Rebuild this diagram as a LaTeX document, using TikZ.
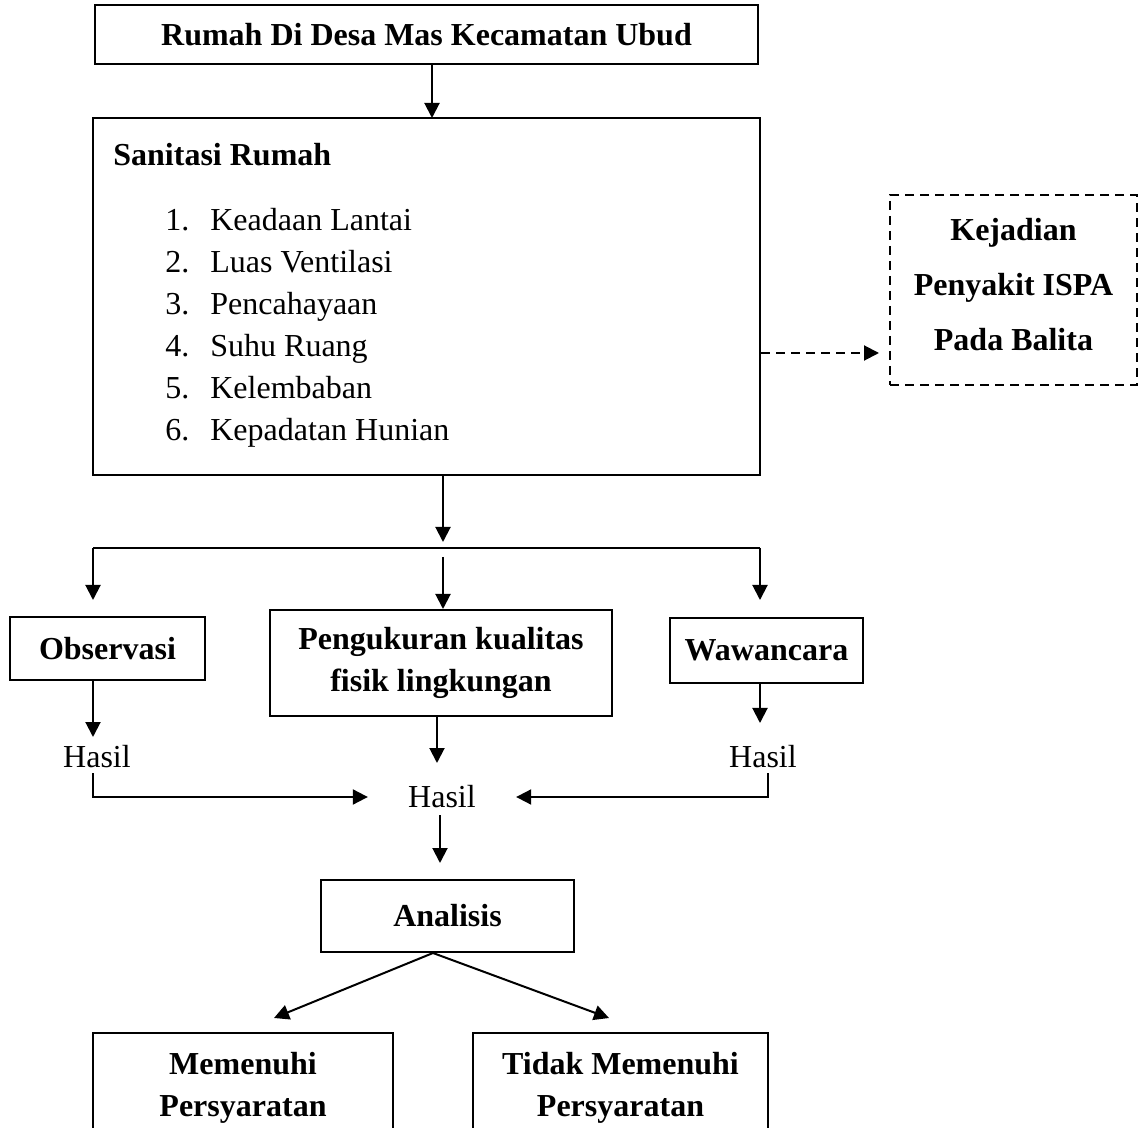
\documentclass[tikz,border=0pt]{standalone}
\usepackage{fontspec}
\setmainfont{Liberation Serif}
\usetikzlibrary{positioning,arrows.meta,calc}
\tikzset{
  kotak/.style ={rectangle, draw=black, line width=1pt, align=center, inner sep=0pt,
                 font=\fontsize{16}{21}\selectfont\bfseries},
  kotakd/.style={kotak, dash pattern=on 4.5pt off 3pt,
                 font=\fontsize{16}{27.5}\selectfont\bfseries},
  teks/.style  ={inner sep=0pt, font=\fontsize{16}{21}\selectfont},
  arr/.style   ={-{Triangle[length=7.5pt,width=7.5pt]}, line width=1pt},
  darr/.style  ={arr, dash pattern=on 4.5pt off 3pt},
  garis/.style ={line width=1pt},
}

\begin{document}
\begin{tikzpicture}[x=0.5pt,y=-0.5pt]
  \useasboundingbox (0,0) rectangle (1147,1128);
  \clip (0,0) rectangle (1147,1128);
  % bagian atas
  \node[kotak, minimum width=331.5pt, minimum height=29.5pt] (rumah) at (426.5,34.5) {Rumah Di Desa Mas Kecamatan Ubud};
  \node[kotak, minimum width=333.5pt, minimum height=178.5pt] (sanitasi) at (426.5,296.5) {};
  \node[teks, font=\fontsize{16}{21}\selectfont\bfseries, anchor=base west] (judul) at (113,166) {Sanitasi Rumah};
  \node[teks, anchor=base west] (v1) at (165,231) {\makebox[22.5pt][l]{1.}Keadaan Lantai};
  \node[teks, anchor=base west] (v2) at (165,273) {\makebox[22.5pt][l]{2.}Luas Ventilasi};
  \node[teks, anchor=base west] (v3) at (165,315) {\makebox[22.5pt][l]{3.}Pencahayaan};
  \node[teks, anchor=base west] (v4) at (165,357) {\makebox[22.5pt][l]{4.}Suhu Ruang};
  \node[teks, anchor=base west] (v5) at (165,399) {\makebox[22.5pt][l]{5.}Kelembaban};
  \node[teks, anchor=base west] (v6) at (165,441) {\makebox[22.5pt][l]{6.}Kepadatan Hunian};
  \node[kotakd, minimum width=123.5pt, minimum height=95pt, text depth=6pt] (ispa) at (1013.5,290) {Kejadian\\Penyakit ISPA\\Pada Balita};
  \coordinate (d0) at (760,353);
  \draw[darr] (sanitasi.east |- d0) -- ([xshift=-5pt]ispa.west |- d0);
  \draw[arr] (432,64) -- (432,118);

  % pengumpulan data
  \coordinate (bagi) at (443,548);
  \draw[arr] (sanitasi.south -| bagi) -- ([yshift=3pt]bagi);
  \draw[garis] (93,548) -- (760,548);
  \node[kotak, minimum width=97.5pt, minimum height=31.5pt] (obs) at (107.5,649) {Observasi};
  \node[kotak, minimum width=171pt, minimum height=53pt] (ukur) at (441,663) {Pengukuran kualitas\\fisik lingkungan};
  \node[kotak, minimum width=96.5pt, minimum height=32.5pt] (waw) at (766.5,650.5) {Wawancara};
  \draw[arr] (93,548) -- (93,600);
  \draw[arr] (443,557) -- (ukur.north -| 443,0);
  \draw[arr] (760,548) -- (760,600);

  % hasil
  \node[teks] (hasilL) at (97,757) {Hasil};
  \node[teks] (hasilC) at (442,797) {Hasil};
  \node[teks] (hasilR) at (763,757) {Hasil};
  \draw[arr] (obs.south -| 93,0) -- (93,737);
  \draw[arr] (ukur.south -| 437,0) -- (437,763);
  \draw[arr] (waw.south -| 760,0) -- (760,723);
  \draw[arr] (93,773) -- (93,797) -- ([xshift=-20pt]hasilC.west);
  \draw[arr] (768,773) -- (768,797) -- ([xshift=20pt]hasilC.east);

  % analisis
  \node[kotak, minimum width=126.5pt, minimum height=36pt] (analisis) at (447.5,916) {Analisis};
  \draw[arr] (440,815) -- (440,863);
  \node[kotak, anchor=north, minimum width=150pt, minimum height=55pt] (ya) at (243,1032) {Memenuhi\\Persyaratan};
  \node[kotak, anchor=north, minimum width=147.5pt, minimum height=55pt] (tidak) at (620.5,1032) {Tidak Memenuhi\\Persyaratan};
  \draw[arr] (analisis.south -| 433,0) -- (274,1018);
  \draw[arr] (analisis.south -| 433,0) -- (609,1018);
\end{tikzpicture}
\end{document}
